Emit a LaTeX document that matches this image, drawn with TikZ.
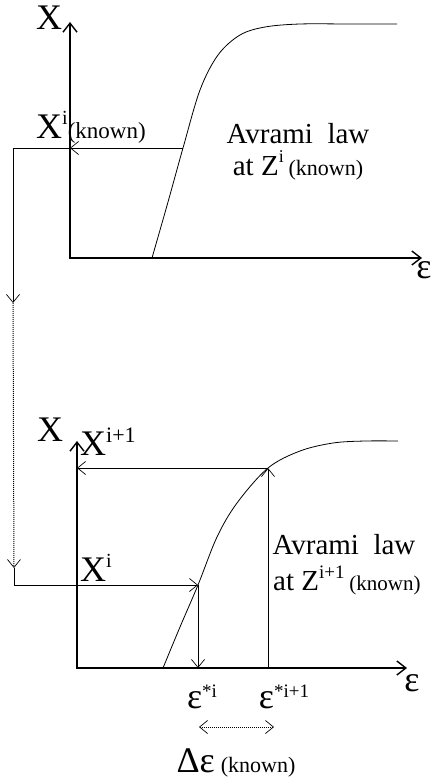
\documentclass[tikz,border=0pt]{standalone}
\usepackage{fontspec}
\setmainfont{Liberation Serif}
\usetikzlibrary{arrows.meta}
\begin{document}
\begin{tikzpicture}[x=1pt,y=-1pt,
  axis/.style={line width=1.7pt,line join=miter,{Straight Barb[length=9pt,width=14pt,line width=1.4pt]}-{Straight Barb[length=9pt,width=14pt,line width=1.4pt]}},
  fine/.style={line width=0.7pt},
  barb/.style={fine,-{Straight Barb[length=8pt,width=13pt,line width=0.7pt]}},
  dots/.style={line width=1pt,dash pattern=on 1pt off 1pt},
  curve/.style={line width=0.8pt,smooth,tension=0.55},
  big/.style={inner sep=0pt,font=\fontsize{36}{36}\selectfont},
  eps/.style={inner sep=0pt,font=\fontsize{36}{36}\selectfont},
  txt/.style={inner sep=0pt,font=\fontsize{29}{32}\selectfont}
]
\useasboundingbox (0,0) rectangle (434,779);

% ---------- top graph ----------
\coordinate (O1) at (70,258);
\coordinate (Y1) at (70,22);
\coordinate (E1) at (422,258);
\draw[axis] (Y1) -- (O1) -- (E1);
\draw[curve] plot coordinates {(152,258) (168,202) (183,148) (200,90) (218,55) (240,35) (265,27) (300,24) (350,24) (397,24)};
\coordinate (K1) at (183,148);
\coordinate (A1) at (70,148);
\coordinate (L1) at (13,148);
\coordinate (L2) at (13,303);
\coordinate (L3) at (14,568);
\coordinate (L4) at (14,585);

\node[big] (x1) at (49,18) {X};
\node[eps,anchor=base] (e1) at (424,278) {ε};
\node[big,anchor=base west] (xi1) at (36,138) {X\fontsize{20}{20}\selectfont\raisebox{14pt}{i}\fontsize{23}{23}\selectfont(known)};
\node[txt,anchor=base] (av1) at (298,143) {Avrami\ \ law};
\node[txt,anchor=base] (at1) at (298,175) {at Z\raisebox{13pt}{\fontsize{18}{18}\selectfont i}\,{\fontsize{22}{22}\selectfont(known)}};

% ---------- connectors between graphs ----------
\draw[barb] (K1) -- (A1);
\draw[barb] (A1) -- (L1) -- (L2);
\draw[dots,-{Straight Barb[length=8pt,width=13pt,line width=0.7pt]}] (L2) -- (L3);
\draw[fine] (L3) -- (L4);

% ---------- bottom graph ----------
\coordinate (O2) at (77,668);
\coordinate (Y2) at (77,441);
\coordinate (E2) at (407,668);
\draw[axis] (Y2) -- (O2) -- (E2);
\draw[curve] plot coordinates {(163,668) (180,627) (198,585) (217,537) (237,503) (268,468) (300,451) (333,443) (365,441) (398,441)};
\coordinate (P1) at (198,585);
\coordinate (P2) at (268,468);
\coordinate (B1) at (198,668);
\coordinate (B2) at (268,668);
\coordinate (A2) at (77,468);

\draw[barb] (L4) -- (P1);
\draw[barb] (P1) -- (B1);
\draw[barb] (B2) -- (P2);
\draw[barb] (P2) -- (A2);

\node[big] (x2) at (50,430) {X};
\node[big,anchor=base west] (xip) at (80,455) {X\fontsize{22}{22}\selectfont\raisebox{13pt}{i+1}};
\node[big,anchor=base west] (xi2) at (80,581) {X\fontsize{20}{20}\selectfont\raisebox{14pt}{i}};
\node[eps,anchor=base] (e2) at (412,691) {ε};
\node[txt,anchor=base] (av2) at (344,554) {Avrami\ \ law};
\node[txt,anchor=base west] (at2) at (273,590) {at Z\raisebox{12pt}{\fontsize{19}{19}\selectfont i+1}\,{\fontsize{21}{22}\selectfont(known)}};
\node[eps,anchor=base] (es1) at (202,708) {ε\raisebox{11pt}{\fontsize{19}{19}\selectfont *i}};
\node[eps,anchor=base] (es2) at (284,708) {ε\raisebox{11pt}{\fontsize{19}{19}\selectfont *i+1}};
\coordinate (D1) at (199,727);
\coordinate (D2) at (274,727);
\draw[dots,{Straight Barb[length=8pt,width=13pt,line width=0.7pt]}-{Straight Barb[length=8pt,width=13pt,line width=0.7pt]}] (D1) -- (D2);
\node[eps,anchor=base] (de) at (236,772) {Δε\,{\fontsize{22}{22}\selectfont(known)}};
\end{tikzpicture}
\end{document}
